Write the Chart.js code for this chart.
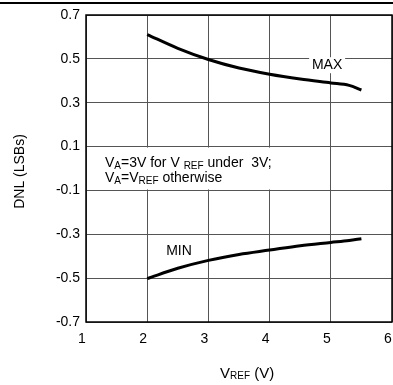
<!DOCTYPE html>
<html><head><meta charset="utf-8">
<script src="https://cdn.jsdelivr.net/npm/chart.js@4/dist/chart.umd.min.js"></script>
<style>html,body{margin:0;padding:0;background:#fff}</style>
</head><body>
<canvas id="c" width="393" height="385"></canvas>
<script>
const xValues = [2, 2.5, 3, 3.5, 4, 4.5, 5, 5.3, 5.5];
const maxDNL  = [0.611, 0.548, 0.497, 0.458, 0.430, 0.408, 0.390, 0.379, 0.358];
const minDNL  = [-0.502, -0.455, -0.419, -0.392, -0.372, -0.352, -0.337, -0.328, -0.320];
const xTicks = [1, 2, 3, 4, 5, 6];
const yTicks = [-0.7, -0.5, -0.3, -0.1, 0.1, 0.3, 0.5, 0.7];

const FONT = '"Liberation Sans", Arial, sans-serif';

function drawSubText(ctx, parts, x, y) {
  let cx = x;
  for (const [t, size, dy] of parts) {
    ctx.font = size + 'px ' + FONT;
    ctx.fillText(t, cx, y + dy);
    cx += ctx.measureText(t).width;
  }
  return cx - x;
}

const decor = {
  id: 'decor',
  beforeDatasetsDraw(chart) {
    const {ctx, chartArea: a, scales: {x, y}} = chart;
    ctx.save();
    const bt = y.getPixelForValue(0.1) + 1, bb = y.getPixelForValue(-0.1) - 1;
    ctx.fillStyle = '#fff';
    ctx.fillRect(a.left + 1, bt, x.getPixelForValue(4.4) - a.left - 1, bb - bt);
    const mx = x.getPixelForValue(4.94), my = y.getPixelForValue(0.471);
    ctx.fillRect(mx - 18, my - 8, 36, 16);
    ctx.strokeStyle = '#000';
    ctx.lineWidth = 1.5;
    ctx.strokeRect(a.left, a.top, a.right - a.left, a.bottom - a.top);
    ctx.restore();
  },
  afterDraw(chart) {
    const {ctx, chartArea: a, scales: {x, y}, width} = chart;
    ctx.save();
    ctx.strokeStyle = '#000';
    ctx.lineWidth = 2;
    ctx.beginPath(); ctx.moveTo(0, 3); ctx.lineTo(width, 3); ctx.stroke();

    ctx.fillStyle = '#000';
    ctx.textBaseline = 'alphabetic';
    const tx = a.left + 19;
    const b1 = y.getPixelForValue(0.1) + 20, b2 = b1 + 15;
    drawSubText(ctx, [['V',14,0],['A',10,2],['=3V for V ',14,0],['REF',10,2],[' under  3V;',14,0]], tx, b1);
    drawSubText(ctx, [['V',14,0],['A',10,2],['=V',14,0],['REF',10,2],[' otherwise',14,0]], tx, b2);

    ctx.textAlign = 'center';
    ctx.textBaseline = 'middle';
    ctx.font = '14px ' + FONT;
    ctx.fillText('MAX', x.getPixelForValue(4.94), y.getPixelForValue(0.471));
    ctx.fillText('MIN', x.getPixelForValue(2.52), y.getPixelForValue(-0.378));

    ctx.textAlign = 'left';
    ctx.textBaseline = 'alphabetic';
    const cx = (a.left + a.right) / 2;
    drawSubText(ctx, [['V',15,0],['REF',10,1],[' (V)',15,0]], cx - 19, 378);

    ctx.translate(20, (a.top + a.bottom) / 2 + 3);
    ctx.rotate(-Math.PI / 2);
    ctx.textAlign = 'center';
    ctx.textBaseline = 'middle';
    ctx.font = '14px ' + FONT;
    ctx.fillText('DNL (LSBs)', 0, 0);
    ctx.restore();
  }
};

new Chart(document.getElementById('c'), {
  type: 'scatter',
  data: {
    datasets: [
      { data: xValues.map((v, i) => ({x: v, y: maxDNL[i]})), showLine: true, borderColor: '#000', borderWidth: 3, pointRadius: 0, cubicInterpolationMode: 'monotone', fill: false },
      { data: xValues.map((v, i) => ({x: v, y: minDNL[i]})), showLine: true, borderColor: '#000', borderWidth: 3, pointRadius: 0, cubicInterpolationMode: 'monotone', fill: false }
    ]
  },
  options: {
    responsive: false,
    animation: false,
    events: [],
    layout: { padding: { left: 0, right: 1, top: 15, bottom: 0 } },
    plugins: { legend: { display: false }, tooltip: { enabled: false } },
    scales: {
      x: {
        type: 'linear', min: 1, max: 6,
        afterBuildTicks: s => { s.ticks = xTicks.map(v => ({value: v})); },
        afterFit: s => { s.height = 63; s.paddingLeft = 0; s.paddingRight = 0; },
        grid: { color: '#555', lineWidth: 1, drawTicks: false },
        border: { display: false },
        ticks: { color: '#000', font: { family: FONT, size: 14 }, padding: 9, labelOffset: -4, maxRotation: 0, callback: v => String(v) }
      },
      y: {
        type: 'linear', min: -0.7, max: 0.7,
        afterBuildTicks: s => { s.ticks = yTicks.map(v => ({value: v})); },
        afterFit: s => { s.width = 86; s.paddingTop = 0; s.paddingBottom = 0; },
        grid: { color: '#555', lineWidth: 1, drawTicks: false },
        border: { display: false },
        ticks: { color: '#000', font: { family: FONT, size: 14 }, padding: 6, callback: v => Number(v).toFixed(1) }
      }
    }
  },
  plugins: [decor]
});
</script>
</body></html>
